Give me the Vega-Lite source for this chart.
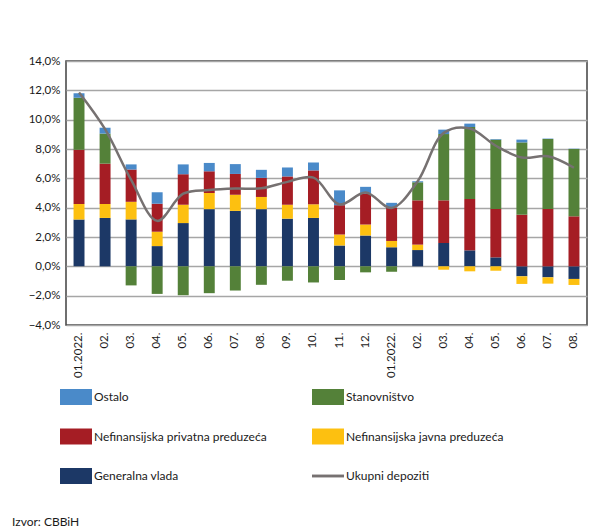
{
  "$schema": "https://vega.github.io/schema/vega-lite/v6.json",
  "width": 521,
  "height": 264,
  "autosize": {"type": "none"},
  "padding": {"left": 66, "top": 61, "right": 29, "bottom": 207},
  "background": "white",
  "config": {
    "font": "Lato",
    "view": {"stroke": "#404040", "strokeWidth": 1.5},
    "axis": {"labelFont": "Lato", "labelFontSize": 11.5, "labelColor": "#1a1a1a", "domain": false, "ticks": false, "title": null}
  },
  "title": {"text": "Izvor: CBBiH", "orient": "bottom", "anchor": "start", "frame": "group", "font": "Lato", "fontSize": 12, "fontWeight": "normal", "color": "#1a1a1a", "dx": -54, "offset": 33},
  "data": {"values": [
    {"m": "2022-01", "Generalna vlada": 3.2, "Nefinansijska javna preduzeća": 1.05, "Nefinansijska privatna preduzeća": 3.7, "Stanovništvo": 3.55, "Ostalo": 0.3, "total": 11.85},
    {"m": "2022-02", "Generalna vlada": 3.3, "Nefinansijska javna preduzeća": 0.95, "Nefinansijska privatna preduzeća": 2.75, "Stanovništvo": 2.05, "Ostalo": 0.4, "total": 9.35},
    {"m": "2022-03", "Generalna vlada": 3.2, "Nefinansijska javna preduzeća": 1.2, "Nefinansijska privatna preduzeća": 2.2, "Stanovništvo": -1.3, "Ostalo": 0.35, "total": 5.9},
    {"m": "2022-04", "Generalna vlada": 1.38, "Nefinansijska javna preduzeća": 0.98, "Nefinansijska privatna preduzeća": 1.91, "Stanovništvo": -1.88, "Ostalo": 0.78, "total": 3.1},
    {"m": "2022-05", "Generalna vlada": 2.95, "Nefinansijska javna preduzeća": 1.25, "Nefinansijska privatna preduzeća": 2.08, "Stanovništvo": -1.97, "Ostalo": 0.67, "total": 4.95},
    {"m": "2022-06", "Generalna vlada": 3.9, "Nefinansijska javna preduzeća": 1.1, "Nefinansijska privatna preduzeća": 1.48, "Stanovništvo": -1.83, "Ostalo": 0.57, "total": 5.2},
    {"m": "2022-07", "Generalna vlada": 3.78, "Nefinansijska javna preduzeća": 1.1, "Nefinansijska privatna preduzeća": 1.42, "Stanovništvo": -1.65, "Ostalo": 0.67, "total": 5.3},
    {"m": "2022-08", "Generalna vlada": 3.9, "Nefinansijska javna preduzeća": 0.83, "Nefinansijska privatna preduzeća": 1.3, "Stanovništvo": -1.26, "Ostalo": 0.55, "total": 5.32},
    {"m": "2022-09", "Generalna vlada": 3.25, "Nefinansijska javna preduzeća": 0.95, "Nefinansijska privatna preduzeća": 1.93, "Stanovništvo": -0.98, "Ostalo": 0.61, "total": 5.76},
    {"m": "2022-10", "Generalna vlada": 3.3, "Nefinansijska javna preduzeća": 0.93, "Nefinansijska privatna preduzeća": 2.31, "Stanovništvo": -1.1, "Ostalo": 0.54, "total": 6.05},
    {"m": "2022-11", "Generalna vlada": 1.42, "Nefinansijska javna preduzeća": 0.75, "Nefinansijska privatna preduzeća": 2.0, "Stanovništvo": -0.93, "Ostalo": 1.01, "total": 4.22},
    {"m": "2022-12", "Generalna vlada": 2.1, "Nefinansijska javna preduzeća": 0.75, "Nefinansijska privatna preduzeća": 2.1, "Stanovništvo": -0.41, "Ostalo": 0.47, "total": 5.03},
    {"m": "2023-01", "Generalna vlada": 1.3, "Nefinansijska javna preduzeća": 0.43, "Nefinansijska privatna preduzeća": 2.28, "Stanovništvo": -0.37, "Ostalo": 0.32, "total": 3.98},
    {"m": "2023-02", "Generalna vlada": 1.11, "Nefinansijska javna preduzeća": 0.37, "Nefinansijska privatna preduzeća": 3.02, "Stanovništvo": 1.23, "Ostalo": 0.07, "total": 5.8},
    {"m": "2023-03", "Generalna vlada": 1.59, "Nefinansijska javna preduzeća": -0.23, "Nefinansijska privatna preduzeća": 2.91, "Stanovništvo": 4.52, "Ostalo": 0.3, "total": 9.1},
    {"m": "2023-04", "Generalna vlada": 1.09, "Nefinansijska javna preduzeća": -0.34, "Nefinansijska privatna preduzeća": 3.5, "Stanovništvo": 4.91, "Ostalo": 0.23, "total": 9.4},
    {"m": "2023-05", "Generalna vlada": 0.61, "Nefinansijska javna preduzeća": -0.3, "Nefinansijska privatna preduzeća": 3.3, "Stanovništvo": 4.73, "Ostalo": 0.04, "total": 8.22},
    {"m": "2023-06", "Generalna vlada": -0.68, "Nefinansijska javna preduzeća": -0.52, "Nefinansijska privatna preduzeća": 3.52, "Stanovništvo": 4.93, "Ostalo": 0.19, "total": 7.42},
    {"m": "2023-07", "Generalna vlada": -0.75, "Nefinansijska javna preduzeća": -0.43, "Nefinansijska privatna preduzeća": 3.91, "Stanovništvo": 4.77, "Ostalo": 0.03, "total": 7.5},
    {"m": "2023-08", "Generalna vlada": -0.86, "Nefinansijska javna preduzeća": -0.41, "Nefinansijska privatna preduzeća": 3.41, "Stanovništvo": 4.59, "Ostalo": 0.02, "total": 6.72}
  ]},
  "encoding": {
    "x": {
      "field": "m", "type": "ordinal",
      "scale": {"paddingInner": 0.58, "paddingOuter": 0.29},
      "axis": {"labelAngle": -90, "labelPadding": 7, "grid": false, "labelFontSize": 11.5,
        "labelExpr": "slice(datum.value, 5) == '01' ? '01.2022.' : slice(datum.value, 5) + '.'"}
    }
  },
  "layer": [
    {
      "transform": [
        {"fold": ["Generalna vlada", "Nefinansijska javna preduzeća", "Nefinansijska privatna preduzeća", "Stanovništvo", "Ostalo"], "as": ["s", "v"]},
        {"window": [{"op": "row_number", "as": "rank"}], "groupby": ["m"]}
      ],
      "mark": {"type": "bar"},
      "encoding": {
        "y": {
          "field": "v", "type": "quantitative", "stack": "zero",
          "scale": {"domain": [-4, 14], "nice": false},
          "axis": {"values": [-4, -2, 0, 2, 4, 6, 8, 10, 12, 14], "labelPadding": 6, "grid": true, "gridColor": "#a6a6a6", "gridWidth": 1.5, "labelOverlap": false,
            "labelExpr": "replace(format(datum.value, '.1f'), '.', ',') + '%'"}
        },
        "order": {"field": "rank", "type": "quantitative"},
        "color": {
          "field": "s", "type": "nominal",
          "scale": {
            "domain": ["Ostalo", "Nefinansijska privatna preduzeća", "Generalna vlada", "Stanovništvo", "Nefinansijska javna preduzeća", "Ukupni depoziti"],
            "range": ["#4a8ac9", "#a51d24", "#1c3866", "#548139", "#fdc010", "#767171"]
          },
          "legend": {
            "orient": "none", "legendX": -6, "legendY": 320, "columns": 2, "title": null,
            "symbolType": "M-1,-0.5H1V0.5H-1Z", "symbolSize": 1024, "symbolStrokeWidth": 0,
            "labelFont": "Lato", "labelFontSize": 12, "labelColor": "#1a1a1a", "labelOffset": 2, "labelLimit": 300,
            "rowPadding": 15.5, "columnPadding": 45,
            "encode": {
              "symbols": {"update": {
                "shape": {"signal": "datum.value === 'Ukupni depoziti' ? 'M-1,-0.09H1V0.09H-1Z' : 'M-1,-0.5H1V0.5H-1Z'"},
                "fill": {"scale": "color", "field": "value"},
                "strokeWidth": {"value": 0},
                "opacity": {"value": 1}
              }}
            }
          }
        }
      }
    },
    {
      "mark": {"type": "line", "interpolate": "catmull-rom", "strokeWidth": 2.5},
      "encoding": {
        "y": {"field": "total", "type": "quantitative",
          "axis": {"values": [-4, -2, 0, 2, 4, 6, 8, 10, 12, 14], "labelPadding": 6, "grid": true, "gridColor": "#a6a6a6", "gridWidth": 1.5, "labelOverlap": false,
            "labelExpr": "replace(format(datum.value, '.1f'), '.', ',') + '%'"}},
        "color": {"datum": "Ukupni depoziti"}
      }
    }
  ]
}
